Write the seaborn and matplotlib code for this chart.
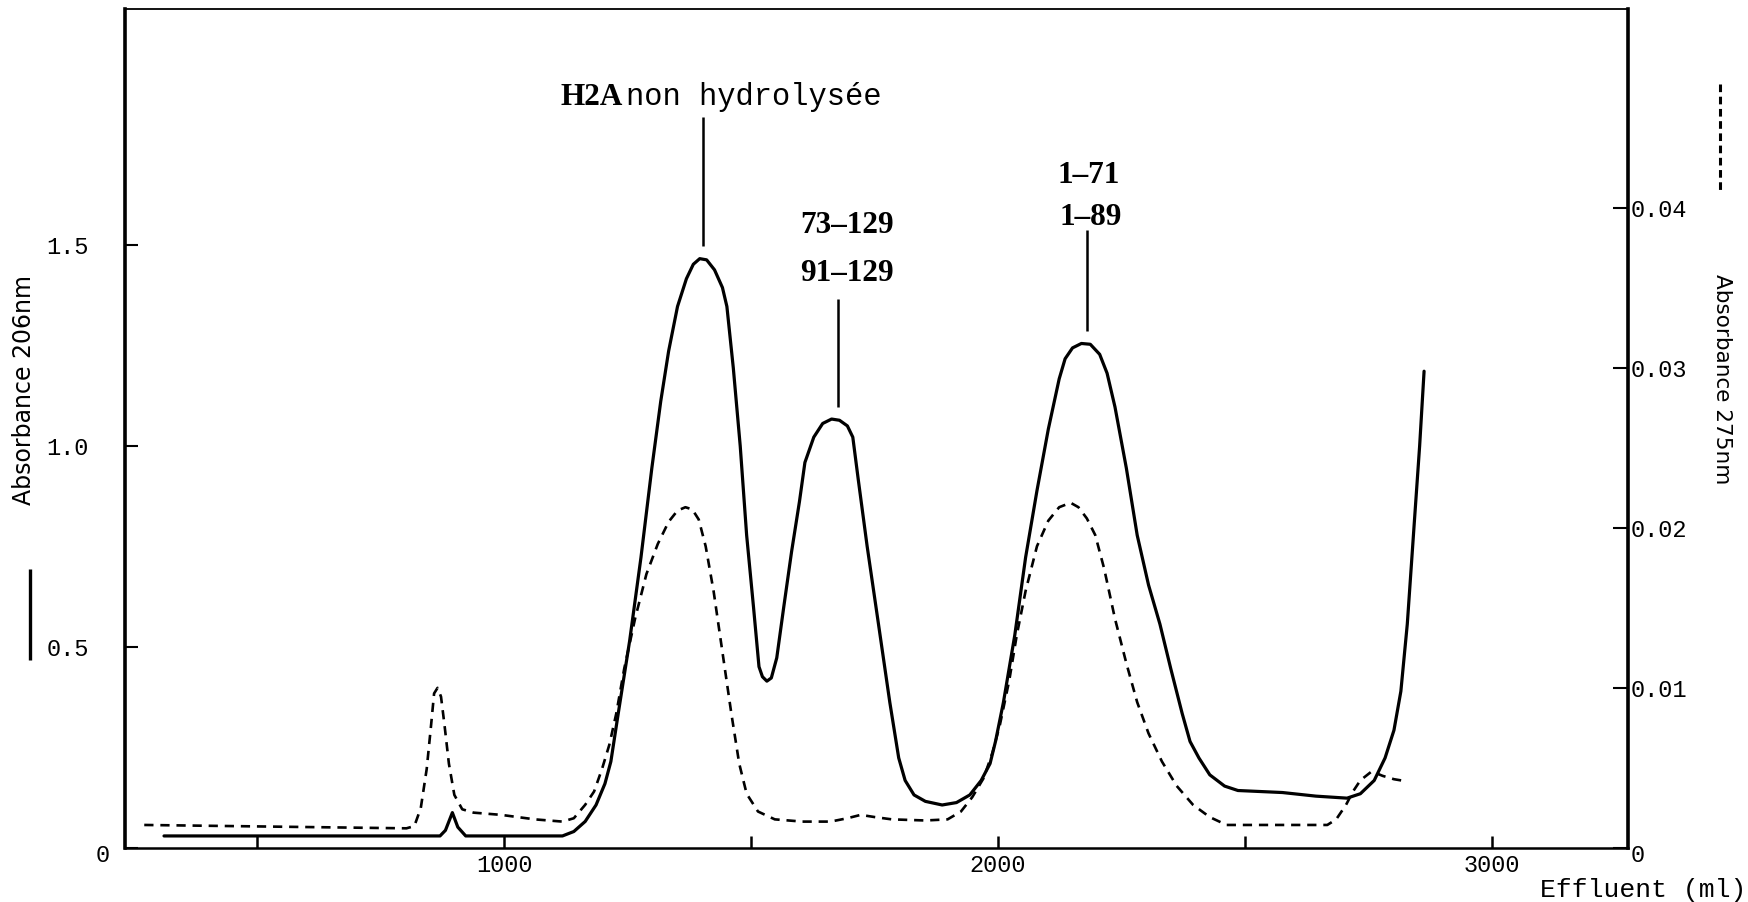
import matplotlib
matplotlib.use("Agg")
import matplotlib.pyplot as plt
from matplotlib.lines import Line2D
from matplotlib.transforms import ScaledTranslation
import numpy as np
import seaborn as sns

# Absorbance at 206 nm (solid trace, left axis)
effluent_206 = [311, 870, 881, 895, 906, 922, 1118, 1141, 1164, 1186, 1204, 1216, 1231,
                1254, 1277, 1299, 1317, 1333, 1351, 1369, 1383, 1396, 1410, 1426, 1442,
                1451, 1464, 1478, 1491, 1505, 1516, 1523, 1532, 1541, 1552, 1566, 1582,
                1598, 1609, 1627, 1645, 1663, 1679, 1695, 1706, 1717, 1735, 1758, 1781,
                1799, 1812, 1830, 1853, 1887, 1916, 1943, 1966, 1984, 1995, 2011, 2034,
                2056, 2079, 2102, 2124, 2136, 2151, 2169, 2187, 2206, 2221, 2237, 2260,
                2282, 2305, 2328, 2350, 2373, 2389, 2407, 2429, 2459, 2486, 2576, 2644,
                2707, 2734, 2762, 2784, 2802, 2816, 2829, 2843, 2854, 2863]
absorbance_206 = [0.030, 0.030, 0.044, 0.088, 0.052, 0.030, 0.030, 0.041, 0.066, 0.107,
                  0.160, 0.215, 0.335, 0.515, 0.723, 0.945, 1.111, 1.236, 1.347, 1.416,
                  1.452, 1.466, 1.463, 1.438, 1.394, 1.347, 1.194, 1.000, 0.778, 0.598,
                  0.451, 0.426, 0.415, 0.423, 0.473, 0.598, 0.737, 0.862, 0.959, 1.022,
                  1.056, 1.067, 1.064, 1.050, 1.022, 0.917, 0.751, 0.557, 0.362, 0.224,
                  0.168, 0.132, 0.116, 0.107, 0.113, 0.132, 0.168, 0.210, 0.265, 0.362,
                  0.529, 0.723, 0.889, 1.042, 1.167, 1.217, 1.244, 1.255, 1.253, 1.228,
                  1.181, 1.097, 0.945, 0.778, 0.654, 0.557, 0.446, 0.335, 0.265, 0.224,
                  0.182, 0.154, 0.143, 0.138, 0.129, 0.124, 0.135, 0.168, 0.224, 0.293,
                  0.390, 0.557, 0.806, 1.000, 1.186]

# Absorbance at 275 nm (dashed trace, right axis)
effluent_275 = [271, 802, 818, 831, 843, 852, 858, 865, 872, 879, 888, 899, 915, 938, 994,
                1062, 1118, 1141, 1164, 1182, 1198, 1213, 1227, 1243, 1265, 1288, 1311,
                1333, 1351, 1367, 1381, 1394, 1408, 1424, 1442, 1460, 1476, 1491, 1514,
                1548, 1604, 1661, 1695, 1722, 1751, 1785, 1853, 1898, 1925, 1948, 1971,
                1989, 2004, 2023, 2038, 2056, 2079, 2102, 2124, 2147, 2163, 2180, 2197,
                2215, 2237, 2260, 2282, 2305, 2332, 2362, 2395, 2429, 2463, 2576, 2667,
                2685, 2705, 2719, 2734, 2757, 2779, 2802, 2829]
absorbance_275 = [0.00144, 0.00123, 0.00137, 0.00249, 0.00493, 0.00771, 0.00966, 0.01001,
                  0.00946, 0.00771, 0.00527, 0.00332, 0.00242, 0.00221, 0.00207, 0.00179,
                  0.00165, 0.00186, 0.00270, 0.00353, 0.00493, 0.00646, 0.00841, 0.01120,
                  0.01433, 0.01712, 0.01900, 0.02039, 0.02109, 0.02130, 0.02116, 0.02053,
                  0.01886, 0.01607, 0.01224, 0.00841, 0.00527, 0.00339, 0.00228, 0.00179,
                  0.00165, 0.00165, 0.00186, 0.00207, 0.00193, 0.00179, 0.00172, 0.00179,
                  0.00228, 0.00318, 0.00437, 0.00597, 0.00771, 0.01050, 0.01329, 0.01607,
                  0.01886, 0.02046, 0.02130, 0.02158, 0.02130, 0.02060, 0.01956, 0.01747,
                  0.01433, 0.01155, 0.00911, 0.00716, 0.00541, 0.00388, 0.00270, 0.00193,
                  0.00144, 0.00144, 0.00144, 0.00179, 0.00270, 0.00353, 0.00423, 0.00479,
                  0.00451, 0.00430, 0.00416]

x_ticks = [500, 1000, 1500, 2000, 2500, 3000]
x_tick_labels = ["", "1000", "", "2000", "", "3000"]
left_ticks = [0, 0.5, 1.0, 1.5]
left_tick_labels = ["0", "0.5", "1.0", "1.5"]
right_ticks = [0, 0.01, 0.02, 0.03, 0.04]
right_tick_labels = ["0", "0.01", "0.02", "0.03", "0.04"]

# Peak assignments: leader position (ml), top of leader (left-axis units),
# and the text lines drawn above it with their pixel offsets.
peak_positions = [1402, 1676, 2181]
leader_tops = [1.818, 1.366, 1.537]
peak_texts = [
    [("H2A", (-80, 12), "right", "serif"), ("non hydrolysée", (-77, 12), "left", "mono")],
    [("73\u2013129", (9, 66), "center", "serif"), ("91\u2013129", (9, 18), "center", "serif")],
    [("1\u201371", (1, 47), "center", "serif"), ("1\u201389", (3, 5), "center", "serif")],
]

sns.set_theme(style="ticks", rc={
    "axes.edgecolor": "black", "text.color": "black", "xtick.color": "black",
    "ytick.color": "black", "axes.labelcolor": "black",
})
plt.rcParams["font.family"] = ["DejaVu Sans"]

MONO = "Liberation Mono"
SERIF = "Liberation Serif"

W, H = 1748, 902
fig = plt.figure(figsize=(W / 100, H / 100), dpi=100)
fig.patch.set_facecolor("white")
left_px, right_px, top_px, bottom_px = 125, 1628, 9, 848
ax = fig.add_axes([left_px / W, 1 - bottom_px / H, (right_px - left_px) / W,
                   (bottom_px - top_px) / H])
ax2 = ax.twinx()

sns.lineplot(x=effluent_206, y=absorbance_206, ax=ax, color="black", linewidth=2.3,
             estimator=None, sort=False)
sns.lineplot(x=effluent_275, y=absorbance_275, ax=ax2, color="black", linewidth=1.9,
             estimator=None, sort=False, linestyle="--")
ax2.lines[0].set_dashes((3.5, 2.6))

ax.set_xlim(232, 3276)
ax.set_ylim(0, 2.087)
ax2.set_ylim(0, 0.05244)

ax.set_xlabel("")
ax.set_ylabel("")
ax2.set_ylabel("")

ax.set_xticks(x_ticks)
ax.set_xticklabels(x_tick_labels, fontfamily=MONO, fontsize=17)
ax.tick_params(axis="x", direction="in", length=9, width=1.8, pad=4)

ax.set_yticks(left_ticks)
ax.set_yticklabels(left_tick_labels, fontfamily=MONO, fontsize=17)
ax.tick_params(axis="y", direction="in", length=9, width=1.5, pad=26)

ax2.set_yticks(right_ticks)
ax2.set_yticklabels(right_tick_labels, fontfamily=MONO, fontsize=17)
ax2.tick_params(axis="y", direction="in", length=11, width=1.5, pad=2)

# The zero labels sit slightly lower, and the left one closer to the spine
ax.get_yticklabels()[0].set_transform(
    ax.get_yticklabels()[0].get_transform() + ScaledTranslation(0.21, -0.05, fig.dpi_scale_trans))
ax2.get_yticklabels()[0].set_transform(
    ax2.get_yticklabels()[0].get_transform() + ScaledTranslation(0.0, -0.05, fig.dpi_scale_trans))

for name, lw in [("left", 2.6), ("bottom", 1.8), ("top", 1.3)]:
    ax.spines[name].set_linewidth(lw)
ax.spines["right"].set_visible(False)
for name in ["left", "bottom", "top"]:
    ax2.spines[name].set_visible(False)
ax2.spines["right"].set_linewidth(2.6)

# Peak labels with their vertical leaders
for lx, top, lines in zip(peak_positions, leader_tops, peak_texts):
    base = np.interp(lx, effluent_206, absorbance_206) + 0.033
    ax.plot([lx, lx], [base, top], color="black", linewidth=1.8, solid_capstyle="butt")
    for text, (dx, dy), ha, kind in lines:
        if kind == "mono":
            kw = dict(fontfamily=MONO, fontsize=22)
        else:
            kw = dict(fontfamily=SERIF, fontsize=22.5, fontweight="bold")
        ax.annotate(text, xy=(lx, top), xycoords="data", xytext=(dx, dy),
                    textcoords="offset pixels", ha=ha, va="baseline", **kw)

# Axis titles and line-style keys
fig.text(24.5 / W, 1 - 390 / H, "Absorbance 206nm", rotation=90, ha="center", va="center",
         fontsize=17, fontfamily="DejaVu Sans")
fig.text(1722 / W, 1 - 379 / H, "Absorbance 275nm", rotation=270, ha="center", va="center",
         fontsize=15.5, fontfamily="DejaVu Sans")
fig.add_artist(Line2D([30 / W, 30 / W], [1 - 569 / H, 1 - 660 / H], transform=fig.transFigure,
                      color="black", linewidth=2.4, solid_capstyle="butt"))
fig.add_artist(Line2D([1720 / W, 1720 / W], [1 - 84 / H, 1 - 190 / H], transform=fig.transFigure,
                      color="black", linewidth=2.2, dashes=(2.5, 1.5)))
fig.text(1746 / W, 1 - 890 / H, "Effluent (ml)", ha="right", va="center",
         fontsize=19, fontfamily=MONO)

fig.savefig("out.png", dpi=100, facecolor="white")
